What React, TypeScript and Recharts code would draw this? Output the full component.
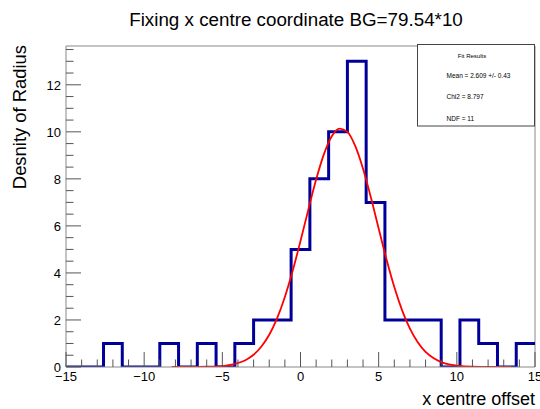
import React from 'react';
import { ComposedChart, Line, XAxis, YAxis, ReferenceLine } from 'recharts';

// histogram bins (25 bins of width 1.2 from -15 to 15)
const binEdges = [
    -15, -13.8, -12.6, -11.4, -10.2, -9, -7.8, -6.6, -5.4, -4.2, -3, -1.8, -0.6,
    0.6, 1.8, 3, 4.2, 5.4, 6.6, 7.8, 9, 10.2, 11.4, 12.6, 13.8, 15,
];
const binCounts = [0, 0, 1, 0, 0, 1, 0, 1, 0, 1, 2, 2, 5, 8, 10, 13, 7, 2, 2, 2, 0, 2, 1, 0, 1];

// gaussian fit curve
const fitX = [
    -8.24, -7, -6, -5, -4.5, -4, -3.5, -3, -2.5, -2, -1.5, -1, -0.5, 0, 0.5, 1, 1.5, 2, 2.5,
    3, 3.5, 4, 4.5, 5, 5.5, 6, 6.5, 7, 7.5, 8, 8.5, 9, 9.5, 10, 11, 12, 13.46,
];
const fitY = [
    0, 0, 0.01, 0.04, 0.09, 0.17, 0.3, 0.52, 0.87, 1.37, 2.07, 2.98, 4.09, 5.36, 6.69, 7.97, 9.05, 9.81, 10.14,
    10.0, 9.4, 8.43, 7.22, 5.89, 4.58, 3.4, 2.41, 1.63, 1.05, 0.64, 0.38, 0.21, 0.11, 0.06, 0.01, 0, 0,
];

const xTicks = [
    -15, -14, -13, -12, -11, -10, -9, -8, -7, -6, -5, -4, -3, -2, -1, 0,
    1, 2, 3, 4, 5, 6, 7, 8, 9, 10, 11, 12, 13, 14, 15,
];
const yTicks = [
    0, 0.5, 1, 1.5, 2, 2.5, 3, 3.5, 4, 4.5, 5, 5.5, 6, 6.5, 7, 7.5, 8, 8.5, 9, 9.5,
    10, 10.5, 11, 11.5, 12, 12.5, 13, 13.5,
];
const yMax = 13.65;

const fitLines = ['Mean = 2.609 +/- 0.43', 'Chi2 = 8.797', 'NDF = 11'];

const FONT = '"Liberation Sans", Arial, Helvetica, sans-serif';

const histData = binEdges.map((x, i) => ({ x, y: binCounts[Math.min(i, binCounts.length - 1)] }));
const fitData = fitX.map((x, i) => ({ x, y: fitY[i] }));

const fmt = (v: number) => (v < 0 ? `\u2212${Math.abs(v)}` : `${v}`);

const XTick = ({ x, y, payload }: any) => {
    const v = payload.value;
    const major = v % 5 === 0;
    return (
        <g>
            <line x1={x} x2={x} y1={y} y2={y - (major ? 15 : 7.5)} stroke="#555" />
            {major && (
                <text x={x} y={y + 13.5} textAnchor="middle" fontSize={13} fontFamily={FONT} fill="#000">
                    {fmt(v)}
                </text>
            )}
        </g>
    );
};

const YTick = ({ x, y, payload }: any) => {
    const v = payload.value;
    const major = v % 2 === 0;
    return (
        <g>
            <line x1={x} x2={x + (major ? 15 : 7.5)} y1={y} y2={y} stroke="#555" />
            {major && (
                <text x={x - 5} y={y + 4.7} textAnchor="end" fontSize={13} fontFamily={FONT} fill="#000">
                    {v}
                </text>
            )}
        </g>
    );
};

export default function App() {
    return (
        <div style={{ position: 'absolute', left: 0, top: 0, width: 540, height: 409, background: '#fff' }}>
            <ComposedChart width={540} height={409} margin={{ top: 46, right: 5, bottom: 12, left: 16 }}>
                <XAxis
                    type="number"
                    dataKey="x"
                    domain={[-15, 15]}
                    ticks={xTicks}
                    interval={0}
                    height={30}
                    tickSize={0}
                    tickMargin={0}
                    tickLine={false}
                    allowDataOverflow
                    axisLine={{ stroke: '#888' }}
                    tick={(p: any) => <XTick {...p} />}
                />
                <YAxis
                    type="number"
                    domain={[0, yMax]}
                    ticks={yTicks}
                    interval={0}
                    width={50}
                    tickSize={0}
                    tickMargin={0}
                    tickLine={false}
                    allowDataOverflow
                    axisLine={{ stroke: '#888' }}
                    tick={(p: any) => <YTick {...p} />}
                />
                <ReferenceLine y={yMax} stroke="#888" />
                <ReferenceLine x={15} stroke="#888" />
                <Line
                    data={histData}
                    dataKey="y"
                    type="stepAfter"
                    stroke="#000099"
                    strokeWidth={3}
                    dot={false}
                    isAnimationActive={false}
                />
                <Line
                    data={fitData}
                    dataKey="y"
                    type="monotone"
                    stroke="#ff0000"
                    strokeWidth={1.8}
                    dot={false}
                    isAnimationActive={false}
                />
            </ComposedChart>
            <svg
                width={540}
                height={409}
                style={{ position: 'absolute', left: 0, top: 0, pointerEvents: 'none' }}
                fontFamily={FONT}
            >
                <text x={296} y={26} textAnchor="middle" fontSize={18.8}>
                    Fixing x centre coordinate BG=79.54*10
                </text>
                <text x={535} y={405} textAnchor="end" fontSize={18}>
                    x centre offset
                </text>
                <text x={26} y={45} textAnchor="end" fontSize={18.4} transform="rotate(-90 26 45)">
                    Desnity of Radius
                </text>
                <rect x={417.5} y={44.5} width={117} height={81.5} fill="#fff" stroke="#444" />
                <text x={472} y={58} textAnchor="middle" fontSize={6}>
                    Fit Results
                </text>
                {fitLines.map((t, i) => (
                    <text key={t} x={446.5} y={77.5 + i * 21.5} fontSize={6.5}>
                        {t}
                    </text>
                ))}
            </svg>
        </div>
    );
}
